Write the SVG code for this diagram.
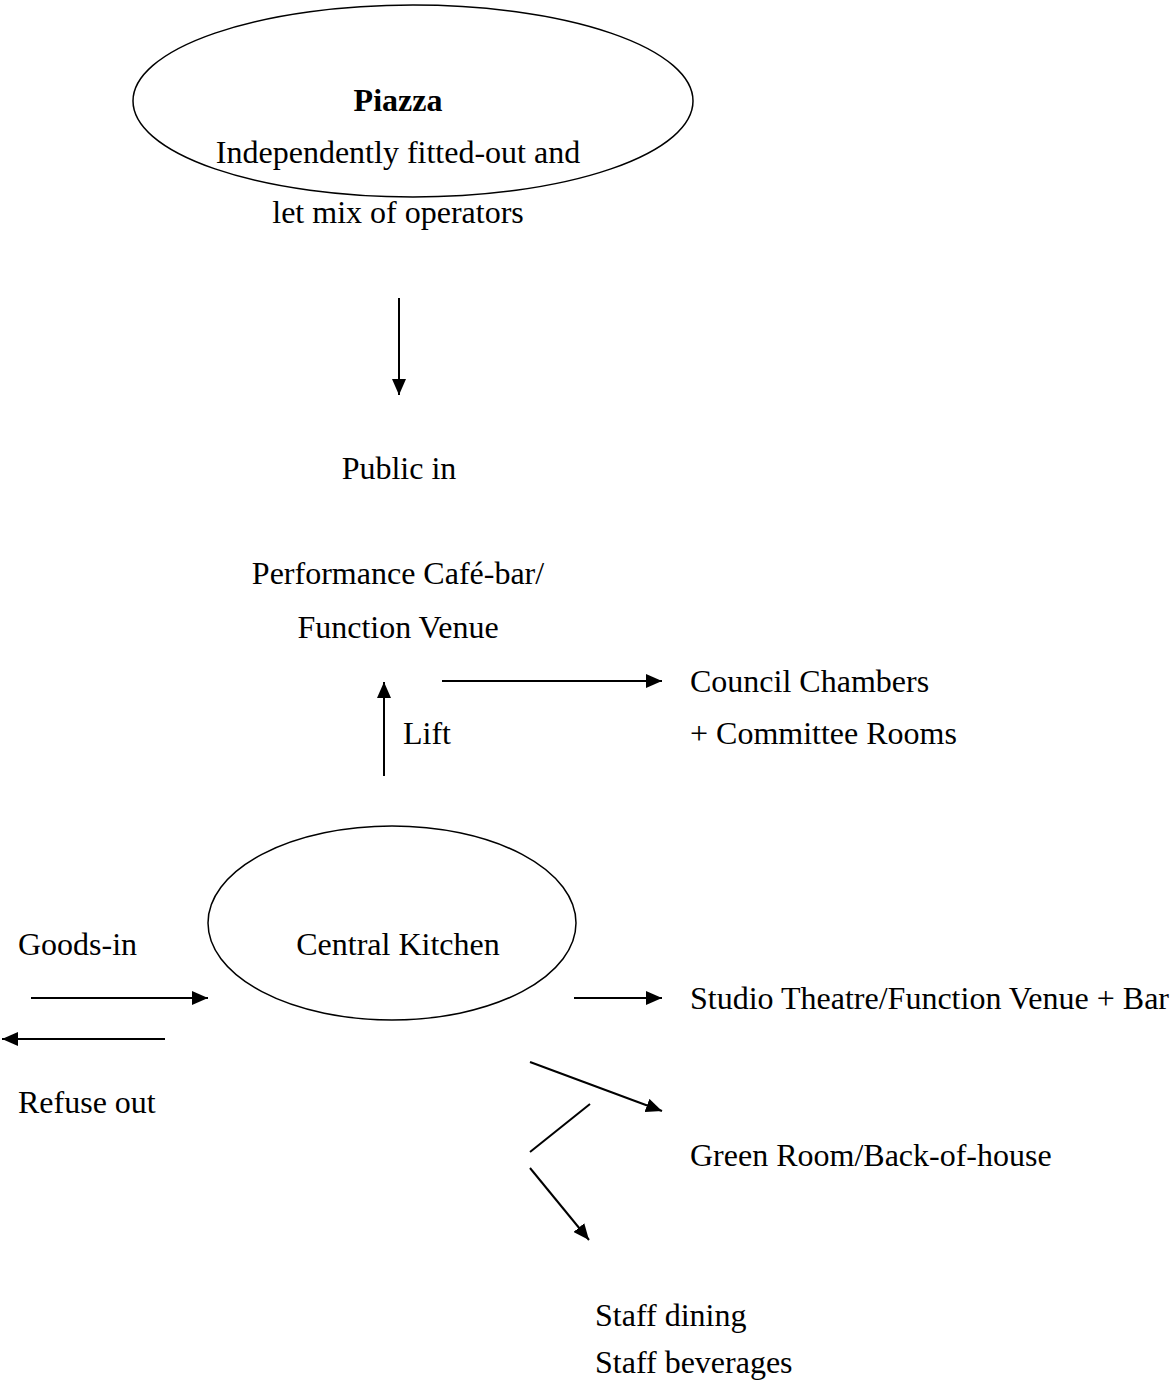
<svg xmlns="http://www.w3.org/2000/svg" width="1172" height="1381" viewBox="0 0 1172 1381">
<style>
text{font-family:"Liberation Serif","Times New Roman",serif;font-size:32px;fill:#000}
.c{text-anchor:middle}
.b{font-weight:bold}
.n{fill:none;stroke:#000;stroke-width:1.5}
.a{fill:none;stroke:#000;stroke-width:2}
</style>
<defs>
<marker id="ahl" viewBox="0 0 10 10" refX="10" refY="5" markerWidth="16" markerHeight="14" markerUnits="userSpaceOnUse" orient="auto" preserveAspectRatio="none">
<path d="M0,0 L10,5 L0,10 z" fill="#000"/>
</marker>
</defs>
<rect width="1172" height="1381" fill="#fff"/>
<g id="piazza">
<ellipse class="n" cx="413" cy="101" rx="280" ry="96"/>
<text class="c b" x="398" y="111">Piazza</text>
<text class="c" x="398" y="163">Independently fitted-out and</text>
<text class="c" x="398" y="223">let mix of operators</text>
</g>
<g id="public-in"><text class="c" x="399" y="479">Public in</text></g>
<g id="performance"><text class="c" x="398" y="584">Performance Café-bar/</text><text class="c" x="398" y="638">Function Venue</text></g>
<g id="lift"><text x="403" y="744">Lift</text></g>
<g id="council"><text x="690" y="692">Council Chambers</text><text x="690" y="744">+ Committee Rooms</text></g>
<g id="kitchen">
<ellipse class="n" cx="392" cy="923" rx="184" ry="97"/>
<text class="c" x="398" y="955">Central Kitchen</text>
</g>
<g id="goods-in"><text x="18" y="955">Goods-in</text></g>
<g id="refuse"><text x="18" y="1113">Refuse out</text></g>
<g id="studio"><text x="690" y="1009">Studio Theatre/Function Venue + Bar</text></g>
<g id="green"><text x="690" y="1166">Green Room/Back-of-house</text></g>
<g id="staff"><text x="595" y="1326">Staff dining</text><text x="595" y="1373">Staff beverages</text></g>
<g id="connectors">
<line class="a" x1="399" y1="298" x2="399" y2="395" marker-end="url(#ahl)"/>
<line class="a" x1="384" y1="776" x2="384" y2="682" marker-end="url(#ahl)"/>
<line class="a" x1="442" y1="681" x2="662" y2="681" marker-end="url(#ahl)"/>
<line class="a" x1="31" y1="998" x2="208" y2="998" marker-end="url(#ahl)"/>
<line class="a" x1="165" y1="1039" x2="2" y2="1039" marker-end="url(#ahl)"/>
<line class="a" x1="574" y1="998" x2="662" y2="998" marker-end="url(#ahl)"/>
<line class="a" x1="530" y1="1062" x2="662" y2="1111" marker-end="url(#ahl)"/>
<line class="a" x1="590" y1="1104" x2="530" y2="1152"/>
<line class="a" x1="530" y1="1168" x2="589" y2="1240" marker-end="url(#ahl)"/>
</g>
</svg>
